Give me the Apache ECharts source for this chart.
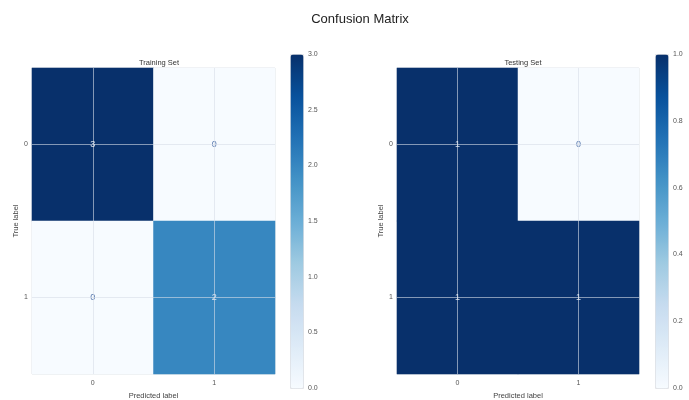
<!DOCTYPE html>
<html>
<head>
<meta charset="utf-8">
<script src="https://cdn.jsdelivr.net/npm/echarts@6/dist/echarts.min.js"></script>
<style>
  html, body { margin: 0; padding: 0; background: #fff; }
  #main { width: 689px; height: 400px; }
</style>
</head>
<body>
<div id="main"></div>
<script>
// labels of both axes
var classLabels = ['0', '1'];
// rows = true label, columns = predicted label
var trainMatrix = [[3, 0], [0, 2]];
var testMatrix = [[1, 0], [1, 1]];
// colour bar ranges and tick steps
var trainRange = [0, 3];
var testRange = [0, 1];
var trainStep = 0.5;
var testStep = 0.2;

var blues = ['#f7fbff', '#deebf7', '#c6dbef', '#9ecae1', '#6baed6', '#4292c6', '#2171b5', '#08519c', '#08306b'];
var fontFam = '"Liberation Sans", Arial, sans-serif';

// build heatmap cells from a matrix
function cells(matrix, maxVal) {
	var data = [];
	for (var r = 0; r < matrix.length; r++) {
		for (var c = 0; c < matrix[r].length; c++) {
			var v = matrix[r][c];
			data.push({
				value: [c, r, v],
				label: { color: v > maxVal / 2 ? '#dde5f0' : '#5676ad' }
			});
		}
	}
	return data;
}

// grid lines through the cell centres
var centreLines = {
	silent: true,
	symbol: 'none',
	label: { show: false },
	lineStyle: { color: 'rgba(215,222,232,0.6)', width: 1, type: 'solid' },
	data: [{ xAxis: '0' }, { xAxis: '1' }, { yAxis: '0' }, { yAxis: '1' }]
};

function catX(idx) {
	return {
		type: 'category', gridIndex: idx, data: classLabels,
		name: 'Predicted label', nameLocation: 'middle', nameGap: 15,
		nameTextStyle: { fontSize: 7.5, color: '#444', fontFamily: fontFam },
		axisLine: { show: false }, axisTick: { show: false },
		axisLabel: { fontSize: 7, color: '#555', margin: 6, fontFamily: fontFam },
		splitLine: { show: false }
	};
}
function catY(idx) {
	return {
		type: 'category', gridIndex: idx, data: classLabels, inverse: true,
		name: 'True label', nameLocation: 'middle', nameGap: 10, nameRotate: 90,
		nameTextStyle: { fontSize: 7.5, color: '#444', fontFamily: fontFam },
		axisLine: { show: false }, axisTick: { show: false },
		axisLabel: { fontSize: 7, color: '#555', margin: 4, fontFamily: fontFam },
		splitLine: { show: false }
	};
}
// invisible axes used only for colour bar tick labels
function barX(idx) {
	return { type: 'value', gridIndex: idx, show: false, min: 0, max: 1 };
}
function barY(idx, range, step) {
	return {
		type: 'value', gridIndex: idx, position: 'right', min: range[0], max: range[1], interval: step,
		axisLine: { show: false }, axisTick: { show: false }, splitLine: { show: false },
		axisLabel: {
			fontSize: 7, color: '#555', margin: 5, fontFamily: fontFam,
			formatter: function (v) { return v.toFixed(1); }
		}
	};
}

var chart = echarts.init(document.getElementById('main'));
chart.setOption({
	backgroundColor: '#fff',
	animation: false,
	title: [
		{ text: 'Confusion Matrix', left: 355, top: 8, textAlign: 'center',
		  textStyle: { fontSize: 13, fontWeight: 'normal', color: '#222', fontFamily: fontFam } },
		{ text: 'Training Set', left: 154, top: 54, textAlign: 'center',
		  textStyle: { fontSize: 7.5, fontWeight: 'normal', color: '#333', fontFamily: fontFam } },
		{ text: 'Testing Set', left: 518, top: 54, textAlign: 'center',
		  textStyle: { fontSize: 7.5, fontWeight: 'normal', color: '#333', fontFamily: fontFam } }
	],
	grid: [
		{ left: 32, top: 68, width: 243, height: 306, outerBoundsMode: 'none', show: true, borderColor: '#dcdfe4', borderWidth: 1, backgroundColor: 'transparent' },
		{ left: 397, top: 68, width: 242, height: 306, outerBoundsMode: 'none', show: true, borderColor: '#dcdfe4', borderWidth: 1, backgroundColor: 'transparent' },
		{ left: 290, top: 54, width: 13, height: 334, outerBoundsMode: 'none' },
		{ left: 655, top: 54, width: 13, height: 334, outerBoundsMode: 'none' }
	],
	xAxis: [catX(0), catX(1), barX(2), barX(3)],
	yAxis: [catY(0), catY(1), barY(2, trainRange, trainStep), barY(3, testRange, testStep)],
	visualMap: [
		{ type: 'continuous', seriesIndex: 0, min: trainRange[0], max: trainRange[1],
		  calculable: false, showLabel: false, text: null, left: 290, top: 54,
		  itemWidth: 13, itemHeight: 334, padding: 0, borderColor: '#e2e4e8', borderWidth: 1,
		  inRange: { color: blues } },
		{ type: 'continuous', seriesIndex: 1, min: testRange[0], max: testRange[1],
		  calculable: false, showLabel: false, text: null, left: 655, top: 54,
		  itemWidth: 13, itemHeight: 334, padding: 0, borderColor: '#e2e4e8', borderWidth: 1,
		  inRange: { color: blues } }
	],
	series: [
		{
			type: 'heatmap', xAxisIndex: 0, yAxisIndex: 0,
			data: cells(trainMatrix, trainRange[1]),
			label: { show: true, fontSize: 9, fontFamily: fontFam },
			markLine: centreLines
		},
		{
			type: 'heatmap', xAxisIndex: 1, yAxisIndex: 1,
			data: cells(testMatrix, testRange[1]),
			label: { show: true, fontSize: 9, fontFamily: fontFam },
			markLine: centreLines
		}
	]
});
</script>
</body>
</html>
